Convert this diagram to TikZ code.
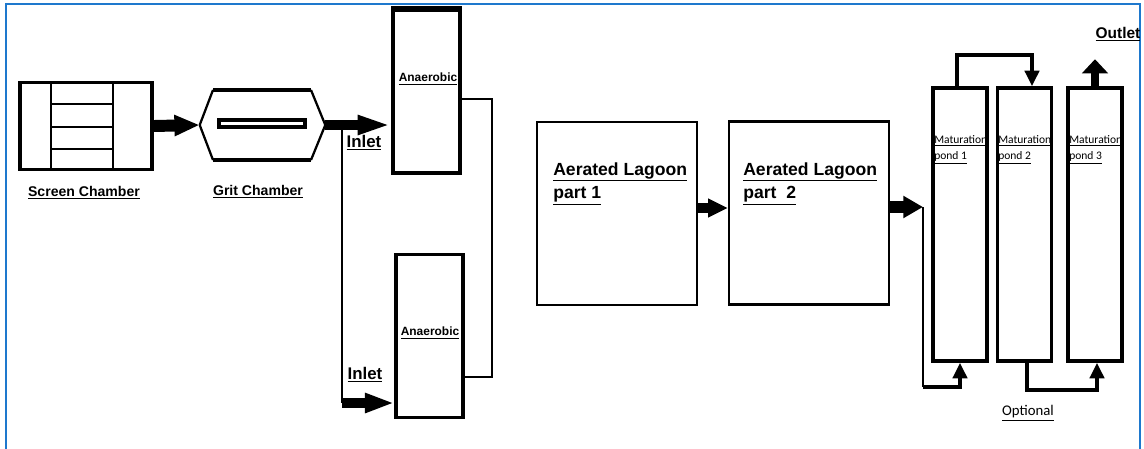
\documentclass[tikz,border=0pt]{standalone}
\usepackage{fontspec}
\setmainfont{Liberation Sans}
\newfontfamily\calibri{Carlito}
\usepackage{xcolor}
\usetikzlibrary{arrows.meta, positioning, calc}
\definecolor{frameblue}{RGB}{30,120,205}
\tikzstyle{screenbox} = [rectangle, draw=black, line width=2.8pt, minimum width=3.3cm, minimum height=2.175cm, inner sep=0pt]
\tikzstyle{gritbox} = [rectangle, minimum width=3.125cm, minimum height=1.75cm, inner sep=0pt]
\tikzstyle{anaer} = [rectangle, draw=black, line width=2.3pt, minimum width=1.675cm, minimum height=4.075cm, inner sep=0pt]
\tikzstyle{lagoon} = [rectangle, draw=black, line width=1.5pt, minimum width=4cm, minimum height=4.575cm, inner sep=0pt]
\tikzstyle{pond} = [rectangle, draw=black, line width=2.5pt, minimum width=1.35cm, minimum height=6.825cm, inner sep=0pt]
\tikzstyle{chamberlbl} = [font=\bfseries\fontsize{10}{12}\selectfont, inner sep=0pt]
\tikzstyle{inletlbl} = [font=\bfseries\fontsize{12}{14}\selectfont, inner sep=0pt]
\tikzstyle{anaerlbl} = [font=\bfseries\fontsize{8.5}{10}\selectfont, inner sep=0pt]
\tikzstyle{lagoonlbl} = [font=\bfseries\fontsize{12.5}{16.5}\selectfont, align=left, anchor=north west, inner sep=0pt]
\tikzstyle{pondlbl} = [font=\calibri\fontsize{8.2}{11.4}\selectfont, align=left, anchor=north west, inner sep=0pt]
\tikzstyle{link} = [draw, line width=1.3pt]
\tikzstyle{fatarrow} = [draw, line width=8.5pt, -{Triangle[length=18pt,width=14pt]}]
\tikzstyle{midarrow} = [draw, line width=7pt, -{Triangle[length=24pt,width=12.5pt]}]
\tikzstyle{pondarrow} = [draw, line width=3.2pt, -{Triangle[length=11pt,width=10pt]}]
\newcommand{\ul}[1]{\underline{#1}}

\begin{document}
\begin{tikzpicture}[x=0.025cm, y=-0.025cm]
    \useasboundingbox (0,0) rectangle (1144,448);
    \draw[frameblue, line width=2pt] (6,460) -- (6,4) -- (1140,4) -- (1140,460);

    % Nodes
    \node [screenbox] (screen) at (86,126) {};
    \draw[line width=1pt] (51,84) -- (51,168) (113,84) -- (113,168);
    \draw[line width=1.6pt] (51,104) -- (113,104) (51,127) -- (113,127) (51,149) -- (113,149);
    \node [chamberlbl] (screenlbl) at (84,193) {\ul{Screen Chamber}};

    \node [gritbox] (grit) at (262.5,125) {};
    \draw[line width=1.6pt] (grit.west) -- (213,90) (311,90) -- (grit.east) -- (311,160) (213,160) -- (grit.west);
    \draw[line width=3pt] (213,90) -- (311,90) (213,160) -- (311,160);
    \draw[line width=2.4pt] (219,120) rectangle (305,127);
    \node [chamberlbl] (gritlbl) at (258,192) {\ul{Grit Chamber}};

    \node [anaer] (anA) at (426.5,91.5) {};
    \draw[line width=4pt] (anA.north west) -- (anA.north east);
    \node [anaerlbl] at (428,79) {\ul{Anaerobic}};
    \node [anaer] (anB) at (429.5,336) {};
    \node [anaerlbl] at (430,333) {\ul{Anaerobic}};
    \node [inletlbl] (inletA) at (364,143) {\ul{Inlet}};
    \node [inletlbl] (inletB) at (365,375) {\ul{Inlet}};

    \node [lagoon] (lagA) at (617,213.5) {};
    \node [lagoonlbl] at (553,162) {\ul{Aerated Lagoon}\\\ul{part 1}};
    \node [lagoon] (lagB) at (809,213) {};
    \node [lagoonlbl] at (743,162) {\ul{Aerated Lagoon}\\\ul{part\ \ 2}};

    \node [pond] (pondA) at (960,224.5) {};
    \node [pondlbl] at (934,135) {\ul{Maturation}\\\ul{pond 1}};
    \node [pond] (pondB) at (1024.5,224.5) {};
    \node [pondlbl] at (998,135) {\ul{Maturation}\\\ul{pond 2}};
    \node [pond] (pondC) at (1095,224.5) {};
    \node [pondlbl] at (1069,135) {\ul{Maturation}\\\ul{pond 3}};
    \node [font=\bfseries\fontsize{11}{13}\selectfont, inner sep=0pt] (outlet) at (1118,34) {\ul{Outlet}};
    \node [font=\calibri\fontsize{10.5}{12}\selectfont, inner sep=0pt] (optional) at (1028,413) {\ul{Optional}};

    \coordinate (split) at (342,125);
    \coordinate (inB) at (anB.west |- 0,403);
    \coordinate (jB) at (923,207);
    \coordinate (jC) at (923,387);

    % Edges
    \path [fatarrow] (screen.east) -- (grit.west);
    \path [midarrow] (grit.east) -- (anA.west |- grit.east);
    \path [link] (split) -- (split |- inB);
    \path [draw, line width=6.5pt, -{Triangle[length=21pt,width=13pt]}] (split |- inB) -- (inB);
    \path [link] (anA.east |- 0,99) -- (492,99) -- (492,377) -- (anB.east |- 0,377);
    \path [draw, line width=7pt, -{Triangle[length=14pt,width=12.5pt]}] (lagA.east |- 0,208) -- (lagB.west |- 0,208);
    \path [draw, line width=8.5pt, -{Triangle[length=14pt,width=15pt]}] (lagB.east |- jB) -- (jB);
    \path [link] (jB) -- (jC);
    \path [pondarrow] (jC) -| (pondA.south);
    \path [pondarrow] ($(pondA.north)+(-3,0)$) -- ++(0,-31) -| ($(pondB.north)+(7.5,0)$);
    \path [pondarrow] ($(pondB.south)+(2.5,0)$) -- ++(0,27) -| ($(pondC.south)+(2,0)$);
    \path [draw, line width=6pt, -{Triangle[length=10pt,width=18pt]}] (pondC.north) -- ++(0,-27);
\end{tikzpicture}
\end{document}
